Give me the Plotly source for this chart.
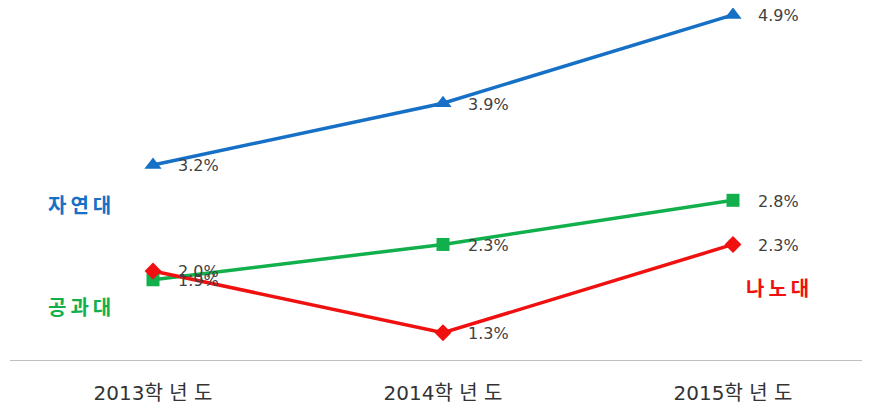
import plotly.graph_objects as go

categories = ["2013학 년 도", "2014학 년 도", "2015학 년 도"]
series_names = ["자연대", "공과대", "나노대"]
natural = [3.2, 3.9, 4.9]
engineering = [1.9, 2.3, 2.8]
nano = [2.0, 1.3, 2.3]

colors = {"자연대": "#1570C6", "공과대": "#12B04C", "나노대": "#F01010"}
symbols = {"자연대": "triangle-up", "공과대": "square", "나노대": "diamond"}
sizes = {"자연대": 15, "공과대": 13, "나노대": 13}
data = {"자연대": natural, "공과대": engineering, "나노대": nano}

xs = [0, 1, 2]
fig = go.Figure()
FONT = "Noto Sans CJK KR, sans-serif"
NUMFONT = "DejaVu Sans, Noto Sans CJK KR, sans-serif"

for name in ["공과대", "나노대", "자연대"]:
    fig.add_trace(go.Scatter(
        x=xs, y=data[name], mode="lines+markers", name=name,
        line=dict(color=colors[name], width=3.5),
        marker=dict(symbol=symbols[name], size=sizes[name], color=colors[name]),
        showlegend=False, cliponaxis=False,
    ))
    for xi, v in zip(xs, data[name]):
        fig.add_annotation(x=xi, y=v, text=f"{v:.1f}%", showarrow=False,
                           xanchor="left", yanchor="middle", xshift=23, yshift=-1,
                           font=dict(family=NUMFONT, size=16, color="#404040"))

# series name labels
label_pos = {"자연대": (-0.255, 2.747), "공과대": (-0.252, 1.592), "나노대": (2.152, 1.818)}
for name in series_names:
    lx, ly = label_pos[name]
    fig.add_annotation(x=lx, y=ly, text="<b>" + "\u2009".join(name) + "</b>", showarrow=False,
                       xanchor="center", yanchor="middle",
                       font=dict(family=FONT, size=20, color=colors[name]))

fig.update_xaxes(range=[-0.5, 2.5], tickvals=xs, ticktext=categories,
                 showgrid=False, zeroline=False, showline=False, automargin=False,
                 ticks="", ticklabelstandoff=18,
                 tickfont=dict(family=NUMFONT, size=20, color="#333333"))
fig.update_yaxes(range=[0.98, 4.978], showgrid=False, zeroline=False, automargin=False,
                 showticklabels=False, showline=False)

# baseline axis line
fig.add_shape(type="line", xref="paper", yref="y", x0=0.0023, x1=0.982, y0=0.98, y1=0.98,
              line=dict(color="#BFBFBF", width=2), layer="below")

fig.update_layout(width=870, height=410, margin=dict(l=0, r=0, t=0, b=57),
                  plot_bgcolor="white", paper_bgcolor="white")

fig.write_html("out.html")
